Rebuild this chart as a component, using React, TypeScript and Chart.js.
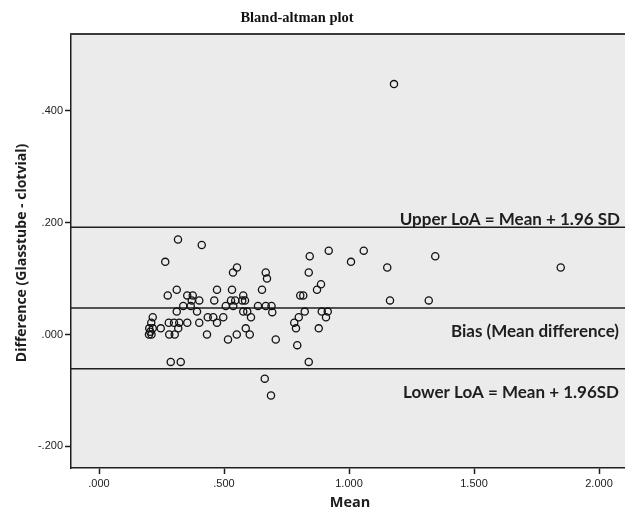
import { useEffect, useRef } from "react";
import { Chart, registerables } from "chart.js";

Chart.register(...registerables);

// ---- data ----
const meanValues: number[] = [
  0.316, 0.411, 0.265, 0.552, 0.536, 0.667, 0.672, 0.311, 0.275, 0.472,
  0.532, 0.652, 0.353, 0.375, 0.577, 0.401, 0.371, 0.461, 0.528, 0.545,
  0.573, 0.584, 0.337, 0.367, 0.507, 0.537, 0.636, 0.667, 0.690, 0.311,
  0.392, 0.577, 0.593, 0.693, 0.215, 0.435, 0.457, 0.497, 0.608, 0.209,
  0.279, 0.300, 0.321, 0.353, 0.401, 0.472, 0.201, 0.215, 0.247, 0.317,
  0.587, 0.200, 0.205, 0.210, 0.281, 0.303, 0.432, 0.551, 0.603, 0.516,
  0.707, 0.287, 0.327, 0.663, 0.688,
  0.843, 0.919, 1.059, 1.008, 1.153, 0.839, 0.888, 0.872, 0.805, 0.817,
  1.164, 1.319, 0.823, 0.891, 0.915, 0.799, 0.908, 0.781, 0.788, 0.879,
  0.793, 0.839, 1.345, 1.847, 1.180,
];
const diffValues: number[] = [
  0.170, 0.160, 0.130, 0.120, 0.111, 0.111, 0.100, 0.080, 0.070, 0.080,
  0.080, 0.080, 0.070, 0.070, 0.070, 0.061, 0.061, 0.061, 0.061, 0.061,
  0.061, 0.061, 0.051, 0.051, 0.051, 0.051, 0.051, 0.051, 0.051, 0.041,
  0.041, 0.041, 0.041, 0.040, 0.031, 0.031, 0.031, 0.031, 0.031, 0.021,
  0.021, 0.021, 0.021, 0.021, 0.021, 0.021, 0.011, 0.011, 0.011, 0.011,
  0.011, 0.000, 0.005, 0.000, 0.000, 0.000, 0.000, 0.000, 0.000, -0.009,
  -0.009, -0.049, -0.049, -0.079, -0.109,
  0.140, 0.150, 0.150, 0.130, 0.120, 0.111, 0.090, 0.080, 0.070, 0.070,
  0.061, 0.061, 0.041, 0.041, 0.041, 0.031, 0.031, 0.021, 0.011, 0.011,
  -0.019, -0.049, 0.140, 0.120, 0.448,
];
const biasValue = 0.0476;
const upperLoA = 0.192;
const lowerLoA = -0.0613;

const xTicks: number[] = [0, 0.5, 1, 1.5, 2];
const yTicks: number[] = [-0.2, 0, 0.2, 0.4];
const xRange: number[] = [-0.112, 2.104];
const yRange: number[] = [-0.2388, 0.5376];

const chartTitle = "Bland-altman plot";
const xTitle = "Mean";
const yTitle = "Difference (Glasstube - clotvial)";
const upperLabel = "Upper LoA = Mean + 1.96 SD";
const biasLabel = "Bias (Mean difference)";
const lowerLabel = "Lower LoA = Mean + 1.96SD";

const fmt = (v: number) => {
  const s = Math.abs(v).toFixed(3).replace(/^0/, "");
  return (v < 0 ? "-" : "") + s;
};

const INK = "#1e1e1e";

const decorPlugin = {
  id: "decor",
  beforeDraw(chart: any) {
    const { ctx, chartArea } = chart;
    ctx.save();
    ctx.fillStyle = "#ebebeb";
    ctx.fillRect(chartArea.left, chartArea.top, chartArea.right - chartArea.left, chartArea.bottom - chartArea.top);
    ctx.restore();
  },
  afterDraw(chart: any) {
    const { ctx, chartArea, scales } = chart;
    const y = scales.y;
    ctx.save();
    // top border
    ctx.strokeStyle = "#3a3a3a";
    ctx.lineWidth = 2;
    ctx.beginPath();
    ctx.moveTo(chartArea.left - 1, chartArea.top);
    ctx.lineTo(chartArea.right, chartArea.top);
    ctx.stroke();

    // title
    ctx.fillStyle = "#111";
    ctx.font = "bold 14.5px 'Liberation Serif', serif";
    ctx.textAlign = "center";
    ctx.textBaseline = "middle";
    ctx.fillText(chartTitle, 297, 18);

    // axis titles
    ctx.font = "bold 14.5px 'Open Sans', sans-serif";
    ctx.fillStyle = INK;
    ctx.fillText(xTitle, 350, 503);
    ctx.save();
    ctx.translate(22, 253);
    ctx.rotate(-Math.PI / 2);
    ctx.font = "bold 14px 'Open Sans', sans-serif";
    ctx.fillText(yTitle, 0, 0);
    ctx.restore();

    // line annotations
    ctx.font = "bold 17px Lato, sans-serif";
    ctx.textAlign = "right";
    ctx.fillText(upperLabel, 620, y.getPixelForValue(upperLoA) - 8);
    ctx.fillText(biasLabel, 619, y.getPixelForValue(biasValue) + 24);
    ctx.fillText(lowerLabel, 619, y.getPixelForValue(lowerLoA) + 24);
    ctx.restore();
  },
};

const refLine = (v: number) => ({
  type: "line" as const,
  data: [
    { x: xRange[0], y: v },
    { x: xRange[1], y: v },
  ],
  borderColor: INK,
  borderWidth: 1.5,
  pointRadius: 0,
  fill: false,
  order: 2,
});

export default function App() {
  const ref = useRef<HTMLCanvasElement | null>(null);
  useEffect(() => {
    if (!ref.current) return;
    const points = meanValues.map((m, i) => ({ x: m, y: diffValues[i] }));
    const tickFont = { family: "'Liberation Sans', Arial, sans-serif", size: 11 };
    const chart = new Chart(ref.current, {
      type: "scatter",
      data: {
        datasets: [
          {
            type: "scatter",
            data: points,
            pointStyle: "circle",
            pointRadius: 3.6,
            pointBorderWidth: 1.3,
            pointBorderColor: "#111",
            pointBackgroundColor: "rgba(0,0,0,0)",
            borderColor: "#111",
            backgroundColor: "rgba(0,0,0,0)",
            order: 1,
          } as any,
          refLine(upperLoA) as any,
          refLine(biasValue) as any,
          refLine(lowerLoA) as any,
        ],
      },
      options: {
        animation: false,
        responsive: false,
        devicePixelRatio: 1,
        layout: { padding: { top: 34, left: 0, right: 0, bottom: 0 }, autoPadding: false } as any,
        plugins: { legend: { display: false }, tooltip: { enabled: false }, title: { display: false } },
        scales: {
          x: {
            type: "linear",
            min: xRange[0],
            max: xRange[1],
            afterBuildTicks: (s: any) => {
              s.ticks = xTicks.map((v) => ({ value: v }));
            },
            afterFit: (s: any) => {
              s.height = 44;
            },
            grid: { drawOnChartArea: false, tickLength: 6, color: INK, tickWidth: 1.5 } as any,
            border: { color: INK, width: 1.5 },
            ticks: {
              font: tickFont,
              color: "#222",
              padding: 3,
              maxRotation: 0,
              autoSkip: false,
              callback: (v: any) => fmt(Number(v)),
            },
          },
          y: {
            type: "linear",
            min: yRange[0],
            max: yRange[1],
            afterBuildTicks: (s: any) => {
              s.ticks = yTicks.map((v) => ({ value: v }));
            },
            afterFit: (s: any) => {
              s.width = 71;
            },
            grid: { drawOnChartArea: false, tickLength: 6, color: INK, tickWidth: 1.5 } as any,
            border: { color: INK, width: 1.5 },
            ticks: {
              font: tickFont,
              color: "#222",
              padding: 2,
              autoSkip: false,
              callback: (v: any) => fmt(Number(v)),
            },
          },
        },
      },
      plugins: [decorPlugin],
    });
    return () => chart.destroy();
  }, []);
  return (
    <div style={{ position: "absolute", left: 0, top: 0, width: 625, height: 512, background: "#fff" }}>
      <canvas ref={ref} width={625} height={512} style={{ display: "block", width: 625, height: 512 }} />
    </div>
  );
}
